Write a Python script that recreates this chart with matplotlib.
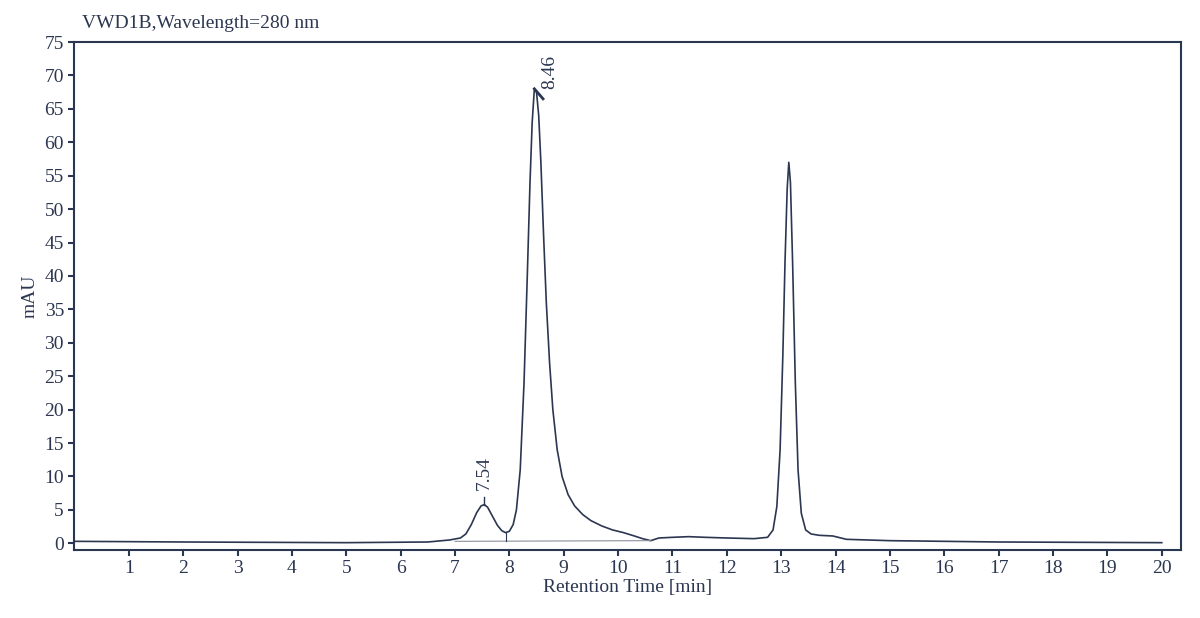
import matplotlib
matplotlib.use("Agg")
import matplotlib.pyplot as plt

t = [0, 2, 5, 6.5, 6.9, 7.1, 7.2, 7.3, 7.4, 7.48, 7.54, 7.6, 7.68, 7.78, 7.86, 7.93, 8.0, 8.07, 8.13,
     8.2, 8.27, 8.33, 8.38, 8.42, 8.46, 8.5, 8.54, 8.58, 8.63, 8.68, 8.74, 8.8, 8.88, 8.97, 9.08, 9.2,
     9.35, 9.5, 9.7, 9.9, 10.1, 10.3, 10.45, 10.6, 10.75, 11.0, 11.3, 11.6, 12.0, 12.5, 12.75, 12.85,
     12.92, 12.98, 13.03, 13.07, 13.11, 13.14, 13.17, 13.21, 13.26, 13.31, 13.37, 13.45, 13.55, 13.7,
     13.95, 14.2, 15, 17, 20]
v = [0.3, 0.2, 0.1, 0.2, 0.5, 0.8, 1.4, 2.8, 4.6, 5.6, 5.8, 5.4, 4.2, 2.7, 1.9, 1.6, 1.8, 2.8, 5.0,
     11, 24, 40, 54, 63, 68, 67.5, 64, 57, 46, 36, 27, 20, 14, 10, 7.3, 5.6,
     4.3, 3.4, 2.6, 2.0, 1.6, 1.1, 0.7, 0.4, 0.8, 0.9, 1.0, 0.9, 0.8, 0.7, 0.9, 2,
     5.5, 14, 28, 42, 53, 57, 54, 42, 24, 11, 4.5, 2.0, 1.4, 1.2,
     1.1, 0.6, 0.4, 0.2, 0.1]
labels = ["7.54", "8.46"]

C = "#2b3650"
plt.rcParams['font.family'] = ['Liberation Serif', 'DejaVu Serif']
fig = plt.figure(figsize=(12, 6.18), dpi=100)
ax = fig.add_axes([0.062, 0.11, 0.922, 0.822])
ax.plot(t, v, color=C, lw=1.2)
ax.plot([7.0, 10.6], [0.3, 0.4], color="#8a8f99", lw=0.8)
ax.plot([7.93, 7.93], [0.3, 1.6], color=C, lw=0.8)
ax.plot([7.54, 7.54], [5.8, 6.9], color=C, lw=1.0)
ax.plot([8.46, 8.62], [68, 66.5], color=C, lw=2)
ax.text(7.54, 8.0, labels[0], rotation=90, ha='center', va='bottom', color=C, fontsize=14)
ax.text(8.74, 68, labels[1], rotation=90, ha='center', va='bottom', color=C, fontsize=14)
ax.set_xlim(0, 20.35)
ax.set_ylim(-1, 75)
ax.set_xticks(range(1, 21))
ax.set_yticks(range(0, 80, 5))
ax.tick_params(colors=C, labelsize=14, direction='out', length=4, width=1.5)
for s in ax.spines.values():
    s.set_color(C)
    s.set_linewidth(1.5)
ax.set_xlabel("Retention Time [min]", color=C, fontsize=14, labelpad=1)
ax.set_ylabel("mAU", color=C, fontsize=14)
fig.text(0.068, 0.955, "VWD1B,Wavelength=280 nm", color=C, fontsize=14)
fig.savefig("out.png")
